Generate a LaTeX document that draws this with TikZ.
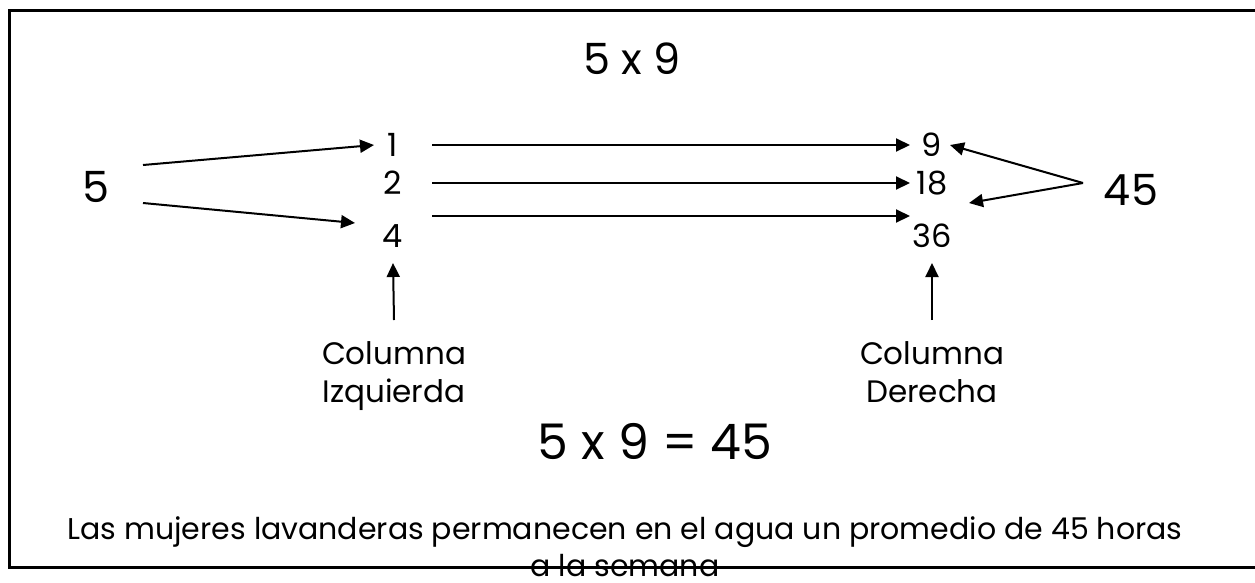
\documentclass[tikz,border=0pt]{standalone}
\usepackage{fontspec}
\setsansfont{Poppins}
\usetikzlibrary{arrows.meta,positioning,calc}
\definecolor{ink}{HTML}{000000}
\tikzset{
  arr/.style={-{Triangle[length=14pt,width=13pt]},line width=2pt,draw=ink},
  num/.style={font=\sffamily\fontsize{32}{36}\selectfont,text=ink,inner sep=0pt},
  big/.style={font=\sffamily\fontsize{43}{50}\selectfont,text=ink,inner sep=0pt},
  lbl/.style={font=\sffamily\fontsize{31}{38}\selectfont,align=center,text=ink,inner sep=0pt},
}

\begin{document}
\begin{tikzpicture}[x=1pt,y=-1pt,font=\sffamily]
  \useasboundingbox (0,0) rectangle (1255,582);
  % frame, open on the right
  \draw[ink,line width=3pt] (9.5,10) rectangle (1262,567);

  \node[big] (title) at (632,59) {5 x 9};
  \node[big] (five) at (96,187) {5};
  \node[big] (total) at (1131,190) {45};

  % the two columns
  \foreach \a/\b/\y in {1/9/145,2/18/183,4/36/236}{%
    \node[num] (l\a) at (393,\y) {\a};
    \node[num] (r\b) at (932,\y) {\b};}

  \draw[arr] ([xshift=39pt]l1.center) -- ([xshift=-22pt]r9.center);
  \draw[arr] ([xshift=39pt]l2.center) -- ([xshift=-22pt]r18.center);
  \draw[arr] ([xshift=39pt,yshift=20pt]l4.center) -- ([xshift=-22pt,yshift=20pt]r36.center);

  \draw[arr] ([xshift=47pt,yshift=22pt]five.center) -- ([xshift=-19pt]l1.center);
  \draw[arr] ([xshift=47pt,yshift=-16pt]five.center) -- ([xshift=-38pt,yshift=13pt]l4.center);
  \draw[arr] ([xshift=-48pt,yshift=7pt]total.center) -- ([xshift=18pt]r9.center);
  \draw[arr] ([xshift=-48pt,yshift=7pt]total.center) -- ([xshift=37pt,yshift=-20pt]r18.center);

  \node[lbl] (izq) at (394,376) {Columna\\Izquierda};
  \node[lbl] (der) at (932,372) {Columna\\Derecha};
  \draw[arr] ([yshift=56pt]izq.center) -- ([yshift=-27pt]l4.center);
  \draw[arr] ([yshift=52pt]der.center) -- ([yshift=-27pt]r36.center);

  \node[font=\sffamily\fontsize{49}{56}\selectfont,text=ink,inner sep=0pt] (eq) at (655,441) {5 x 9 = 45};
  \node[font=\sffamily\fontsize{30}{37}\selectfont,align=center,text=ink,inner sep=0pt] (note) at (625,547)
       {Las mujeres lavanderas permanecen en el agua un promedio de 45 horas\\a la semana};
\end{tikzpicture}
\end{document}
